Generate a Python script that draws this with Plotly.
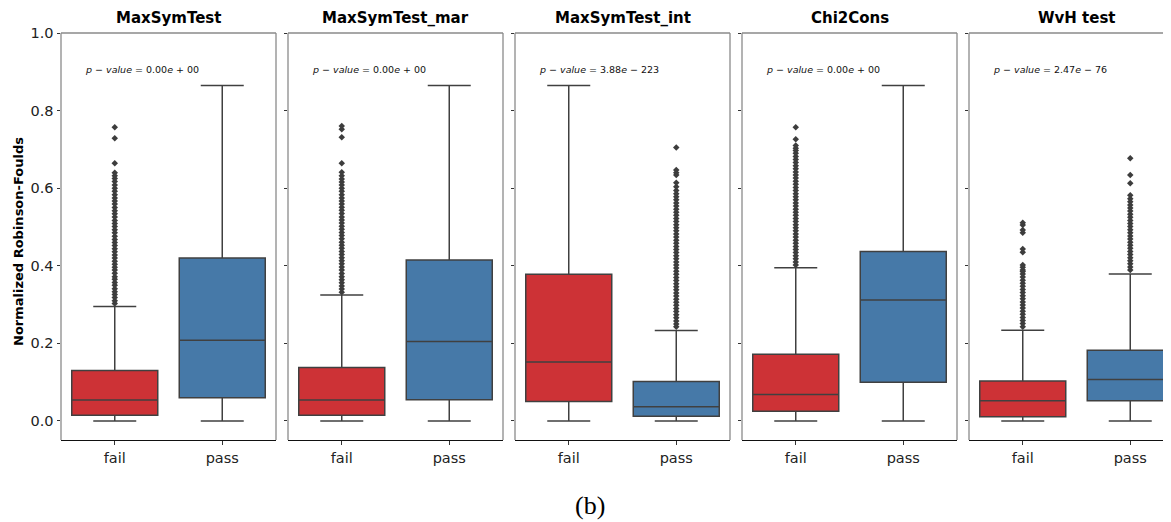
import plotly.graph_objects as go

# ---------------- data ----------------
tests = ["MaxSymTest", "MaxSymTest_mar", "MaxSymTest_int", "Chi2Cons", "WvH test"]
pvalues = ["0.00", "0.00", "3.88", "0.00", "2.47"]
pexps = ["00", "00", "223", "00", "76"]
groups = ["fail", "pass"]

# box statistics per test: [fail, pass]
q1 = [[0.015, 0.060], [0.015, 0.055], [0.050, 0.012], [0.025, 0.100], [0.011, 0.052]]
median = [[0.054, 0.208], [0.054, 0.205], [0.152, 0.037], [0.068, 0.312], [0.052, 0.107]]
q3 = [[0.130, 0.420], [0.138, 0.415], [0.378, 0.102], [0.172, 0.437], [0.103, 0.182]]
lowfence = [[0.0, 0.0], [0.0, 0.0], [0.0, 0.0], [0.0, 0.0], [0.0, 0.0]]
upfence = [[0.295, 0.865], [0.325, 0.865], [0.865, 0.233], [0.395, 0.865], [0.234, 0.379]]

out_msym_fail = [0.303, 0.31, 0.318, 0.326, 0.333, 0.341, 0.35, 0.357, 0.365, 0.372, 0.381,
                 0.389, 0.396, 0.404, 0.412, 0.42, 0.428, 0.436, 0.444, 0.452, 0.46, 0.468,
                 0.476, 0.485, 0.493, 0.501, 0.509, 0.517, 0.526, 0.534, 0.542, 0.55, 0.559,
                 0.567, 0.575, 0.583, 0.592, 0.6, 0.608, 0.617, 0.625, 0.632, 0.64, 0.664,
                 0.729, 0.757]
out_mar_fail = [0.332, 0.34, 0.348, 0.356, 0.364, 0.372, 0.38, 0.389, 0.397, 0.405, 0.413,
                0.421, 0.429, 0.437, 0.445, 0.453, 0.461, 0.47, 0.478, 0.486, 0.494, 0.502,
                0.51, 0.518, 0.526, 0.535, 0.543, 0.551, 0.559, 0.567, 0.575, 0.583, 0.592,
                0.6, 0.608, 0.616, 0.624, 0.632, 0.641, 0.664, 0.731, 0.752, 0.76]
out_int_pass = [0.243, 0.25, 0.258, 0.266, 0.274, 0.282, 0.29, 0.298, 0.306, 0.314, 0.322,
                0.33, 0.338, 0.346, 0.354, 0.362, 0.37, 0.378, 0.386, 0.394, 0.402, 0.41,
                0.418, 0.426, 0.434, 0.442, 0.45, 0.458, 0.466, 0.474, 0.482, 0.49, 0.498,
                0.506, 0.514, 0.522, 0.53, 0.538, 0.546, 0.554, 0.562, 0.57, 0.578, 0.586,
                0.594, 0.604, 0.614, 0.634, 0.64, 0.647, 0.705]
out_chi_fail = [0.402, 0.41, 0.418, 0.426, 0.434, 0.442, 0.45, 0.458, 0.466, 0.474, 0.482,
                0.49, 0.498, 0.506, 0.514, 0.522, 0.53, 0.538, 0.546, 0.554, 0.562, 0.57,
                0.578, 0.586, 0.594, 0.602, 0.61, 0.618, 0.626, 0.634, 0.642, 0.65, 0.658,
                0.666, 0.674, 0.682, 0.69, 0.697, 0.703, 0.71, 0.726, 0.757]
out_wvh_fail = [0.243, 0.251, 0.259, 0.267, 0.275, 0.283, 0.291, 0.299, 0.307, 0.315, 0.323,
                0.331, 0.339, 0.347, 0.355, 0.363, 0.371, 0.379, 0.385, 0.389, 0.396, 0.402,
                0.435, 0.443, 0.485, 0.492, 0.505, 0.511]
out_wvh_pass = [0.389, 0.397, 0.405, 0.413, 0.421, 0.429, 0.437, 0.445, 0.453, 0.461, 0.469,
                0.477, 0.485, 0.493, 0.501, 0.509, 0.517, 0.525, 0.533, 0.541, 0.549, 0.557,
                0.565, 0.573, 0.582, 0.613, 0.634, 0.677]
outliers = [
    [out_msym_fail, []],
    [out_mar_fail, []],
    [[], out_int_pass],
    [out_chi_fail, []],
    [out_wvh_fail, out_wvh_pass],
]

y_ticks = [0.0, 0.2, 0.4, 0.6, 0.8, 1.0]

# ---------------- style ----------------
colors = ["#cd3236", "#4679a8"]
edge = "#404040"
spine = "#8a8a8a"
FONT = "DejaVu Sans"

# page body has an 8px margin, so the figure is shifted by 8px
OFF = 8
W, H = 1171 - OFF, 522 - OFF
ML, MT = 61 - OFF, 33 - OFF
MB = H - (440 - OFF)
plot_w = W - ML
panel_px = 215
step_px = 227

fig = go.Figure()
layout = dict(
    width=W, height=H,
    margin=dict(l=ML, r=0, t=MT, b=MB, pad=0),
    paper_bgcolor="white", plot_bgcolor="white",
    showlegend=False, boxmode="overlay",
    font=dict(family=FONT, color="#000000"),
)
annotations = []
shapes = []

for i, t in enumerate(tests):
    n = i + 1
    xa = "x" if n == 1 else f"x{n}"
    ya = "y" if n == 1 else f"y{n}"
    left = i * step_px
    right = min(left + panel_px, plot_w)
    dom = [left / plot_w, right / plot_w]
    xr_hi = -0.5 + 2.0 * (right - left) / panel_px

    for g in range(2):
        fig.add_trace(go.Box(
            x=[groups[g]], q1=[q1[i][g]], median=[median[i][g]], q3=[q3[i][g]],
            lowerfence=[lowfence[i][g]], upperfence=[upfence[i][g]],
            fillcolor=colors[g], line=dict(color=edge, width=1.5),
            width=0.8, whiskerwidth=0.5, boxpoints=False,
            xaxis=xa, yaxis=ya, hoverinfo="skip",
        ))
        if outliers[i][g]:
            fig.add_trace(go.Scatter(
                x=[groups[g]] * len(outliers[i][g]), y=outliers[i][g],
                mode="markers",
                marker=dict(symbol="diamond", size=5, color="#3d3d3d",
                            line=dict(width=0)),
                xaxis=xa, yaxis=ya, hoverinfo="skip",
            ))

    xkey = "xaxis" if n == 1 else f"xaxis{n}"
    ykey = "yaxis" if n == 1 else f"yaxis{n}"
    layout[xkey] = dict(
        domain=dom, anchor=ya, type="category",
        categoryorder="array", categoryarray=groups,
        range=[-0.5, xr_hi],
        showline=True, linecolor="#111111", linewidth=1.3,
        ticks="outside", ticklen=4, tickcolor="#333333",
        tickfont=dict(size=14.5, family=FONT, color="#222222"),
        showgrid=False, zeroline=False, fixedrange=True,
    )
    layout[ykey] = dict(
        domain=[0, 1], anchor=xa,
        range=[-0.049, 1.0],
        tickvals=y_ticks, tickformat=".1f",
        showticklabels=(n == 1),
        ticks="outside", ticklen=3.5, tickcolor="#333333",
        tickfont=dict(size=14.5, family=FONT, color="#222222"),
        showline=False, showgrid=False, zeroline=False, fixedrange=True,
    )
    if n != 1:
        layout[ykey]["matches"] = "y"

    dx = f"{xa} domain"
    dy = f"{ya} domain"
    # frame: left and top always, right except for the clipped last panel
    shapes.append(dict(type="line", xref=dx, yref=dy, x0=0, x1=0, y0=0, y1=1,
                       line=dict(color=spine, width=1.3), layer="below"))
    shapes.append(dict(type="line", xref=dx, yref=dy, x0=0, x1=1, y0=1, y1=1,
                       line=dict(color=spine, width=1.3), layer="below"))
    if right - left >= panel_px:
        shapes.append(dict(type="line", xref=dx, yref=dy, x0=1, x1=1, y0=0, y1=1,
                           line=dict(color=spine, width=1.3), layer="below"))

    # title
    annotations.append(dict(
        text=f"<b>{t}</b>", xref="paper", yref="paper",
        x=(left + panel_px / 2) / plot_w, y=1, yanchor="bottom", yshift=4,
        xanchor="center", showarrow=False,
        font=dict(size=15, family=FONT, color="#000000"),
    ))
    # p-value
    annotations.append(dict(
        text=f"<i>p</i> \u2212 <i>value</i> = {pvalues[i]}<i>e</i> {'+' if pexps[i] == '00' else '\u2212'} {pexps[i]}",
        xref=xa, yref=ya, x=-0.3, y=0.905, xanchor="left", yanchor="middle",
        showarrow=False, font=dict(size=9.5, family=FONT, color="#111111"),
    ))

annotations.append(dict(
    text="<b>Normalized Robinson-Foulds</b>", xref="paper", yref="paper",
    x=(18 - 61) / plot_w, y=(440 - 242) / 407, xanchor="center", yanchor="middle",
    textangle=-90, showarrow=False,
    font=dict(size=13, family=FONT, color="#000000"),
))
annotations.append(dict(
    text="(b)", xref="paper", yref="paper",
    x=(590 - 61) / plot_w, y=0, yanchor="middle", yshift=-(505 - 440),
    xanchor="center", showarrow=False,
    font=dict(size=26, family="Liberation Serif", color="#000000"),
))

layout["annotations"] = annotations
layout["shapes"] = shapes
fig.update_layout(**layout)
fig.write_html("out.html")
